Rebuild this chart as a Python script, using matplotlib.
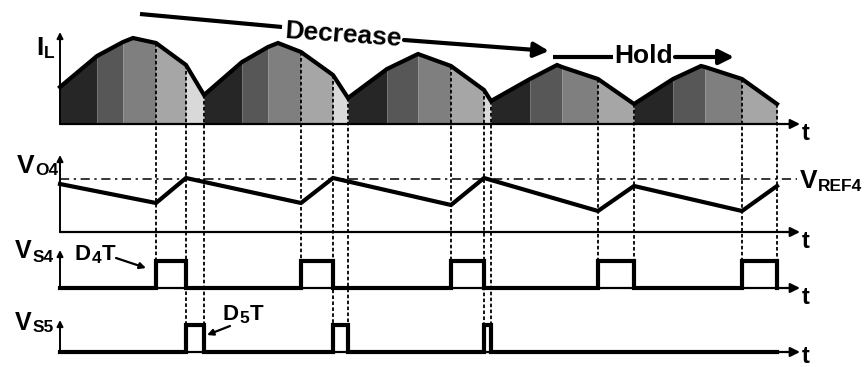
import numpy as np
import matplotlib.pyplot as plt

plt.rcParams['font.family'] = ['Liberation Sans', 'DejaVu Sans']

# inductor current outline: time and height above the I_L baseline
il_t = [60, 97, 123, 133, 156, 186, 204,
        242, 268, 278, 301, 333, 348,
        387, 418, 451, 484, 491,
        530, 557, 562, 598, 634,
        673, 701, 705, 742, 777]
il_h = [37, 68, 82, 86, 81, 59, 29,
        62, 77, 81, 72, 49, 26,
        55, 70, 58, 34, 23,
        45, 59, 57, 45, 20,
        45, 58, 57, 45, 20]

# shading intervals of each switching cycle
il_bounds = [[60, 97, 123, 156, 186, 204],
             [204, 242, 268, 301, 333, 348],
             [348, 387, 418, 451, 484, 491],
             [491, 530, 562, 598, 634],
             [634, 673, 705, 742, 777]]
shades = ['#262626', '#575757', '#7f7f7f', '#a6a6a6', '#d9d9d9']

# output voltage V_O4 and reference
vo_t = [60, 156, 186, 301, 333, 451, 484, 598, 634, 742, 777]
vo_h = [48, 29, 54, 29, 54, 27, 54, 21, 46, 21, 46]
vref_h = 53

# switch pulses (on, off)
s4_pulses = [(156, 186), (301, 333), (451, 484), (598, 634), (742, 777)]
s5_pulses = [(186, 204), (333, 348), (484, 491)]
pulse_h = 27

# baselines / axis tops of the four traces
x0, x_end = 60, 800
base = {'il': 124, 'vo': 232, 's4': 288, 's5': 352}
top = {'il': 32, 'vo': 155, 's4': 250, 's5': 320}
t_drop = {'il': 16, 'vo': 16, 's4': 16, 's5': 11}

fig = plt.figure(figsize=(8.65, 3.67), dpi=100)
ax = fig.add_axes([0, 0, 1, 1])
ax.set_xlim(0, 865)
ax.set_ylim(367, 0)
ax.axis('off')

BIG = 19
SUB = 12.5


def arrow(p0, p1, lw=1.5, scale=12):
    ax.annotate('', xy=p1, xytext=p0,
                arrowprops=dict(arrowstyle='-|>', color='k', lw=lw,
                                mutation_scale=scale, shrinkA=0, shrinkB=0))


def label(x, y, main, sub, size=BIG, subsize=SUB, drop=3, gap=0.5, tail=None):
    t = ax.text(x, y, main, fontsize=size, fontweight='bold', va='baseline')
    fig.canvas.draw()
    bb = t.get_window_extent().transformed(ax.transData.inverted())
    s = ax.text(bb.x1 + gap, y + drop, sub, fontsize=subsize,
                fontweight='bold', va='baseline')
    if tail:
        fig.canvas.draw()
        bb = s.get_window_extent().transformed(ax.transData.inverted())
        ax.text(bb.x1 + 1, y, tail, fontsize=size, fontweight='bold',
                va='baseline')


# I_L shaded areas
il_t = np.array(il_t, float)
il_h = np.array(il_h, float)
for bounds in il_bounds:
    for k in range(len(bounds) - 1):
        a, b = bounds[k], bounds[k + 1]
        xs = [a] + [t for t in il_t if a < t < b] + [b]
        hs = np.interp(xs, il_t, il_h)
        ax.fill_between(xs, base['il'], base['il'] - hs,
                        color=shades[k], lw=0, zorder=1)

# dashed timing markers
dash = dict(color='k', lw=1.3, ls=(0, (2, 1.3)), zorder=2)
for i, (on, off) in enumerate(s4_pulses):
    y_on = base['il'] - np.interp(on, il_t, il_h)
    ax.plot([on, on], [y_on, base['s4'] - pulse_h], **dash)
    y_off = base['il'] - np.interp(off, il_t, il_h)
    bottom = base['s5'] - pulse_h if i < len(s5_pulses) else base['s4'] - pulse_h
    ax.plot([off, off], [y_off, bottom], **dash)
for on, off in s5_pulses:
    y_off = base['il'] - np.interp(off, il_t, il_h)
    ax.plot([off, off], [y_off, base['s5'] - pulse_h], **dash)

ax.plot(il_t, base['il'] - il_h, color='k', lw=3, solid_joinstyle='miter',
        zorder=4)

# axes with arrows
for key in base:
    arrow((x0, base[key]), (x_end, base[key]), lw=1.6, scale=14)
    arrow((x0, base[key]), (x0, top[key]), lw=1.4, scale=9)
    ax.text(802, base[key] + t_drop[key], 't', fontsize=17,
            fontweight='bold', va='baseline')

# V_REF4 level
ax.plot([x0, 797], [base['vo'] - vref_h] * 2, color='k', lw=1.1,
        ls=(0, (6, 3, 1.5, 3)), zorder=2)
ax.plot(vo_t, base['vo'] - np.array(vo_h), color='k', lw=3,
        solid_joinstyle='miter', zorder=4)


def pulse_train(pulses, y0):
    xs, ys = [x0], [y0]
    for on, off in pulses:
        xs += [on, on, off, off]
        ys += [y0, y0 - pulse_h, y0 - pulse_h, y0]
    xs.append(777)
    ys.append(y0)
    ax.plot(xs, ys, color='k', lw=3, solid_joinstyle='miter', zorder=4)


pulse_train(s4_pulses, base['s4'])
pulse_train(s5_pulses, base['s5'])

# trace names
label(36, 55, 'I', 'L', drop=3, gap=1)
label(17, 173, 'V', 'O4', drop=2)
label(15, 258, 'V', 'S4', drop=4, size=18)
label(15, 330, 'V', 'S5', drop=2, size=18)
label(800, 188, 'V', 'REF4', drop=3)

# duty cycle callouts
label(75, 260, 'D', '4', size=16, subsize=12.5, drop=3, gap=0.3, tail='T')
arrow((116, 258), (146, 268), lw=1.6, scale=9)
label(223, 320, 'D', '5', size=16, subsize=12.5, drop=3, gap=0.3, tail='T')
arrow((230, 326), (207, 335), lw=1.6, scale=9)

# reference trend annotations
ax.plot([140, 282], [14, 27], color='k', lw=3, solid_capstyle='butt')
ax.text(343, 42, 'Decrease', fontsize=BIG, fontweight='bold', ha='center',
        va='baseline', rotation=-4, rotation_mode='anchor')
arrow((404, 40), (549, 51), lw=3, scale=22)
ax.plot([553, 613], [57, 57], color='k', lw=3, solid_capstyle='butt')
ax.text(644, 63, 'Hold', fontsize=BIG, fontweight='bold', ha='center',
        va='baseline')
arrow((675, 57), (734, 57), lw=3, scale=22)

fig.savefig('out.png', dpi=100)
